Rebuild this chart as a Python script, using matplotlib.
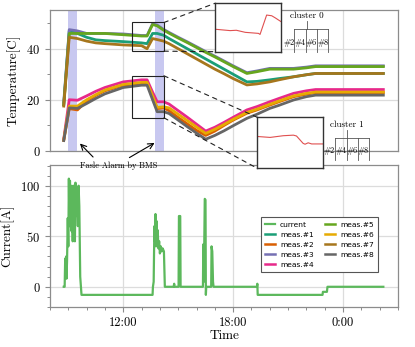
import matplotlib
matplotlib.use("Agg")
import matplotlib.pyplot as plt
from matplotlib.ticker import MultipleLocator, FuncFormatter
from matplotlib.patches import Rectangle, ConnectionPatch

plt.rcParams['font.family'] = 'serif'
plt.rcParams['font.serif'] = ['cmr10']
plt.rcParams['mathtext.fontset'] = 'cm'
plt.rcParams['axes.unicode_minus'] = False
plt.rcParams['axes.formatter.use_mathtext'] = True

# --- data (time in hours, 24+ = next day) ---
t_temp = [8.75, 9.05, 9.5, 10.0, 10.5, 11.0, 12.0, 13.0, 13.3, 13.6, 13.85, 14.2, 14.5,
          15.0, 15.5, 16.0, 16.5, 17.0, 17.5, 18.0, 18.75, 19.3, 20.0, 20.5, 21.3, 22.0,
          22.5, 26.2]

meas1 = [18, 47, 46, 44.5, 43.5, 43.2, 42.8, 42.3, 42, 46, 46, 45.3, 44, 42, 40, 38, 36,
         34, 32, 30, 27, 27.2, 27.8, 28.3, 29, 29.8, 30.3, 30.3]
meas2 = [4, 16.5, 16, 19.5, 21.7, 23.5, 25.7, 26.5, 26.5, 21, 16.5, 16.8, 15.7, 13, 10.5,
         8, 6, 7.7, 9.9, 12, 14.7, 16, 17.9, 19.2, 21.2, 22.2, 22.8, 22.8]
meas3 = [19, 47.5, 47, 46, 46, 46, 45.8, 45.2, 45.2, 49.8, 49.3, 47.6, 46.4, 44.5, 42.7,
         40.8, 38.9, 37.1, 35.2, 33.3, 30.6, 31.3, 32.3, 32.3, 32.3, 32.8, 33.3, 33.3]
meas4 = [4.5, 20, 19.8, 21.5, 23.3, 24.8, 27, 27.8, 27.8, 23, 19.2, 19.2, 18.3, 15.7, 13.1,
         10.4, 7.7, 9.2, 11.1, 13.1, 16, 17.3, 19.2, 20.5, 22.5, 23.5, 24, 24]
meas5 = [18, 46, 46, 46, 46, 46, 45.5, 45, 45, 49.5, 49, 47.3, 46.1, 44.2, 42.4, 40.5,
         38.6, 36.8, 34.9, 33, 30.3, 31, 32, 32, 32, 32.5, 33, 33]
meas6 = [4.3, 17.5, 17.5, 20, 22, 23.8, 26, 26.8, 26.8, 21.5, 17, 17.2, 16.8, 14.3, 11.8,
         9.3, 6.8, 8.4, 10.3, 12.3, 15, 16.3, 18.2, 19.5, 21.5, 22.5, 23, 23]
meas7 = [17.5, 44.5, 44, 43, 42.3, 42, 41.5, 41.2, 40, 44, 43.6, 43, 42, 40, 38, 36, 34,
         32, 30.2, 28.3, 25.8, 26.2, 27, 27.8, 29, 29.8, 30.3, 30.3]
meas8 = [4, 16.8, 16.6, 18.5, 20.5, 22.3, 24.8, 25.7, 25.7, 20, 15.3, 15.3, 14.6, 12,
         9.4, 6.9, 4.5, 6, 7.8, 9.8, 12.7, 14.3, 16.6, 17.8, 19.9, 21.2, 21.8, 21.8]

t_cur = [8.75, 8.80, 8.83, 8.86, 8.88, 8.90, 8.93, 8.97, 9.00, 9.03, 9.06, 9.09, 9.12,
         9.15, 9.18, 9.21, 9.24, 9.27, 9.30, 9.33, 9.36, 9.39, 9.42, 9.45, 9.48, 9.52,
         9.56, 9.60, 9.65, 9.72, 13.60, 13.62, 13.66, 13.70, 13.73, 13.76, 13.79, 13.82,
         13.85, 13.88, 13.92, 13.96, 14.00, 14.05, 14.10, 14.15, 14.22, 14.27, 14.75,
         14.78, 14.80, 15.02, 15.04, 15.11, 15.13, 16.35, 16.37, 16.40, 16.45, 16.49,
         16.51, 16.53, 16.80, 16.82, 16.86, 16.90, 16.93, 19.30, 19.32, 19.34, 22.88,
         22.90, 23.12, 23.15, 26.2]
current = [0, 0, 28, 10, 30, 8, 25, 68, 40, 107, 60, 105, 75, 100, 55, 95, 45, 100, 70,
           90, 45, 103, 70, 95, 85, 60, 100, 80, 10, -8, -8, 0, 5, 60, 45, 72, 40, 65, 50,
           56, 38, 45, 33, 40, 35, 38, 35, 0, 0, 3, 0, 0, 70, 70, 0, 0, 42, 5, 87, 86, -8,
           0, 0, 40, 35, 5, 0, 0, 3, -8, -8, -5, -5, 0, 0]

# zoomed views shown in the insets
t_zoom1 = [12.5, 12.89, 13.05, 13.28, 13.62, 13.66, 13.83, 13.96, 14.05, 14.2]
v_zoom1 = [44.5, 44.1, 44.2, 43.6, 43.3, 43.0, 48.6, 48.4, 47.8, 46.7]
t_zoom2 = [12.53, 12.83, 13.17, 13.43, 13.51, 13.68, 13.73, 13.81, 13.9, 14.2]
v_zoom2 = [23.2, 22.9, 23.5, 23.7, 23.4, 20.8, 20.5, 21.0, 20.6, 20.6]

alarm_spans = [(9.0, 9.5), (13.75, 14.25)]
leaves = ['#2', '#4', '#6', '#8']

meas = [meas1, meas2, meas3, meas4, meas5, meas6, meas7, meas8]
colors = ['#1b9e77', '#d95f02', '#7570b3', '#e7298a', '#66a61e', '#e6ab02', '#a6761d', '#666666']
cur_color = '#5cb85c'

W, H = 415, 347
fig = plt.figure(figsize=(4.15, 3.47), dpi=100)

def fx(px):
    return px / W

def fy(py):
    return 1 - py / H

ax1 = fig.add_axes([fx(50), fy(150.7), fx(348), 141.2 / H])
ax2 = fig.add_axes([fx(50), fy(307), fx(348), 142 / H])

spine_c = '#8c8c8c'
for ax in (ax1, ax2):
    ax.set_xlim(8, 27)
    ax.grid(True, which='major', color='#dcdcdc', lw=0.9, zorder=0)
    ax.set_axisbelow(True)
    for s in ax.spines.values():
        s.set_color(spine_c)
        s.set_linewidth(0.9)
    ax.xaxis.set_major_locator(MultipleLocator(6))
    ax.xaxis.set_minor_locator(MultipleLocator(1))
    ax.tick_params(which='major', length=3.5, width=0.8, color=spine_c, labelsize=9)
    ax.tick_params(which='minor', length=2, width=0.7, color=spine_c)
    ax.tick_params(top=False, right=False, which='both')

# temperature
ax1.set_ylim(0, 55.4)
ax1.yaxis.set_major_locator(MultipleLocator(20))
ax1.yaxis.set_minor_locator(MultipleLocator(10))
ax1.tick_params(axis='x', which='both', length=0, labelbottom=False)
for a, b in alarm_spans:
    ax1.axvspan(a, b, color='#c8c8f0', lw=0, zorder=1)
for i, (vals, c) in enumerate(zip(meas, colors)):
    ax1.plot(t_temp, vals, color=c, lw=2.0, zorder=3)
ax1.set_ylabel('Temperature[C]', fontsize=9.5)

boxes = [(12.49, 39.05, 14.22, 50.3), (12.49, 12.9, 14.22, 29.4)]
for x0, y0, x1, y1 in boxes:
    ax1.add_patch(Rectangle((x0, y0), x1 - x0, y1 - y0, fill=False, ec='#222222',
                            lw=0.8, zorder=5))

# current
ax2.set_ylim(-20, 120.5)
ax2.yaxis.set_major_locator(MultipleLocator(50))
ax2.yaxis.set_minor_locator(MultipleLocator(10))
ax2.xaxis.set_major_formatter(FuncFormatter(lambda v, p: f"{int(round(v)) % 24}:00"))
ax2.plot(t_cur, current, color=cur_color, lw=1.6, label='current', zorder=3)
for i, c in enumerate(colors):
    ax2.plot([], [], color=c, lw=1.8, label=f'meas.#{i + 1}')
ax2.set_ylabel('Current[A]', fontsize=9.5)
ax2.set_xlabel('Time', fontsize=9.5, labelpad=1)
leg = ax2.legend(ncol=2, loc='upper left', bbox_to_anchor=((257 - 50) / 348, (307 - 213.5) / 142),
                 prop={'family': 'DejaVu Sans', 'size': 5.4}, fancybox=False,
                 edgecolor='#555555', framealpha=1, handlelength=1.4, columnspacing=1.5,
                 borderpad=0.55, labelspacing=0.5, handletextpad=0.6)
leg.get_frame().set_linewidth(0.8)

# insets
insets = [(215, 3.3, 281, 51.7, t_zoom1, v_zoom1, (38, 52)),
          (257.3, 117.3, 323.3, 168.3, t_zoom2, v_zoom2, (12, 30))]
for (px0, py0, px1, py1, tz, vz, yl), (bx0, by0, bx1, by1) in zip(insets, boxes):
    axi = fig.add_axes([fx(px0), fy(py1), fx(px1 - px0), (py1 - py0) / H])
    axi.plot(tz, vz, color='#e05050', lw=0.8)
    axi.set_xlim(12.5, 14.2)
    axi.set_ylim(*yl)
    axi.set_xticks([])
    axi.set_yticks([])
    for s in axi.spines.values():
        s.set_color('#333333')
        s.set_linewidth(1.0)
    for (yb, ya) in ((by1, 1), (by0, 0)):
        con = ConnectionPatch(xyA=(bx1, yb), coordsA=ax1.transData,
                              xyB=(0, ya), coordsB=axi.transAxes,
                              color='#222222', lw=0.8, ls=(0, (4, 4)))
        fig.add_artist(con)

# dendrogram sketches
def dendro(label, cx, ty, hy, by, xs, ly, lxs):
    fig.text(fx(cx), fy(ty), label, ha='center', va='center', fontsize=6.5)
    ln = dict(color='#555555', lw=0.6)
    fig.add_artist(plt.Line2D([fx(cx), fx(cx)], [fy(ty + 5), fy(hy)], **ln))
    fig.add_artist(plt.Line2D([fx(xs[0]), fx(xs[-1])], [fy(hy), fy(hy)], **ln))
    for x in xs:
        fig.add_artist(plt.Line2D([fx(x), fx(x)], [fy(hy), fy(by)], **ln))
    for lab, lx in zip(leaves, lxs):
        fig.text(fx(lx), fy(ly), lab, ha='center', va='center', fontsize=6)

dendro('cluster 0', 306.7, 15.7, 29.3, 51.7, [294.3, 305.7, 317.3, 328.3], 42.7,
       [289, 300, 311.5, 322.7])
dendro('cluster 1', 346.7, 125, 138.3, 160, [335, 346.7, 357.5, 369], 150.7,
       [329.3, 340.7, 352, 363.3])

# annotation
fig.text(fx(119), fy(166), 'Fasle Alarm by BMS', ha='center', va='center', fontsize=6)
for tx, tip in ((95, (9.53, 3.6)), (127, (13.84, 3.6))):
    ax1.annotate('', xy=tip, xycoords='data', xytext=(fx(tx), fy(159)),
                 textcoords='figure fraction',
                 arrowprops=dict(arrowstyle='->', color='black', lw=0.8), annotation_clip=False)

fig.savefig('out.png', dpi=100)
